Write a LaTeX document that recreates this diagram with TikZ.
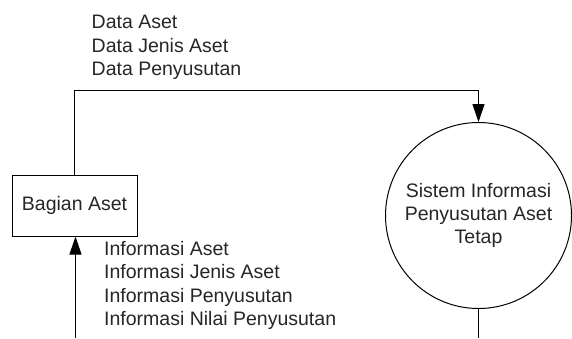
\documentclass[tikz,border=0pt]{standalone}
\usepackage{fontspec}
\setmainfont{Liberation Sans}
\usetikzlibrary{arrows.meta}
\tikzset{
  lbl/.style={font=\fontsize{19.5}{23.5}\selectfont, inner sep=0pt, align=left, text=black!85},
  entity/.style={draw, line width=1pt, minimum width=125pt, minimum height=61pt, inner sep=0pt, font=\fontsize{19.5}{23.5}\selectfont, text=black!85},
  process/.style={draw, circle, line width=1pt, minimum size=186pt, inner sep=0pt, align=center, font=\fontsize{19.5}{23.3}\selectfont, text=black!85},
  flow/.style={line width=1pt, -{Triangle[width=12pt,length=18pt]}},
  plain/.style={line width=1pt}
}
\begin{document}
\begin{tikzpicture}[x=1pt,y=-1pt]
\useasboundingbox (0,0) rectangle (572,338);
\node[entity] (asset) at (74.5,205.5) {Bagian Aset};
\node[process] (sys) at (478.5,215.5) {Sistem Informasi\\Penyusutan Aset\\Tetap};
\coordinate (top) at (0,90);
\coordinate (bl) at (75.5,338);
\coordinate (br) at (478.5,338);
\draw[flow] (asset.north) -- (asset.north |- top) -| (sys.north);
\draw[flow] (bl) -- (bl |- asset.south);
\draw[plain] (sys.south) -- (br);
\node[lbl, anchor=north west] (din) at (91.5,15) {Data Aset\\Data Jenis Aset\\Data Penyusutan};
\node[lbl, anchor=north west] (dout) at (104,241) {Informasi Aset\\Informasi Jenis Aset\\Informasi Penyusutan\\Informasi Nilai Penyusutan};
\end{tikzpicture}
\end{document}
